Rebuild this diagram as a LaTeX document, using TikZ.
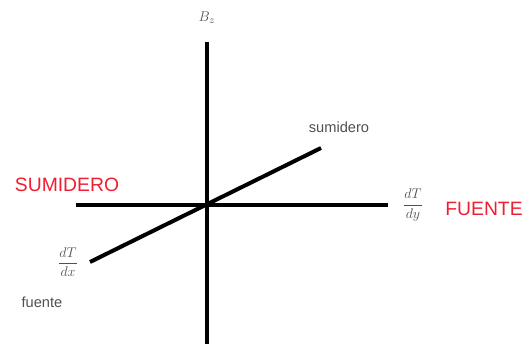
\documentclass[tikz,border=0pt]{standalone}
\usepackage{fontspec}
\setmainfont{Liberation Sans}
\usepackage{amsmath}
\usetikzlibrary{positioning}
\definecolor{flujored}{RGB}{240, 30, 50}
\definecolor{ejegris}{RGB}{80, 80, 80}
\tikzset{every path/.style={line cap=round, line join=round}}
\begin{document}
\begin{tikzpicture}[
    x=0.03cm, y=-0.03cm,
    eje/.style={
        line width=1.2mm,
        line cap=butt
    },
    tag/.style={
        inner sep=1pt,
        text=ejegris,
        font=\fontsize{12.5}{14}\selectfont
    },
    big/.style={
        inner sep=1pt,
        text=flujored,
        font=\fontsize{16.5}{18}\selectfont
    },
    deriv/.style={
        inner sep=1pt,
        text=ejegris,
        font=\fontsize{13}{14}\selectfont
    }
]
\useasboundingbox (0,0) rectangle (531,345);

% ejes
\coordinate (top) at (207,42);
\coordinate (bot) at (207,344);
\coordinate (left) at (76,205);
\coordinate (right) at (388,205);
\coordinate (dlow) at (90,262);
\coordinate (dhigh) at (321,148);

\draw[eje] (top) -- (bot);
\draw[eje] (left) -- (right);
\draw[eje] (dlow) -- (dhigh);

% rotulos
\node[deriv] (bz) at (207,18) {$B_z$};
\node[deriv] (ddy) at (413,205) {$\dfrac{dT}{dy}$};
\node[deriv] (ddx) at (68,262) {$\dfrac{dT}{dx}$};
\node[big] (sum) at (67,185) {SUMIDERO};
\node[big] (fue) at (484,209) {FUENTE};
\node[tag] (sumi) at (339,127) {sumidero};
\node[tag] (fuen) at (42,302) {fuente};

\end{tikzpicture}
\end{document}
